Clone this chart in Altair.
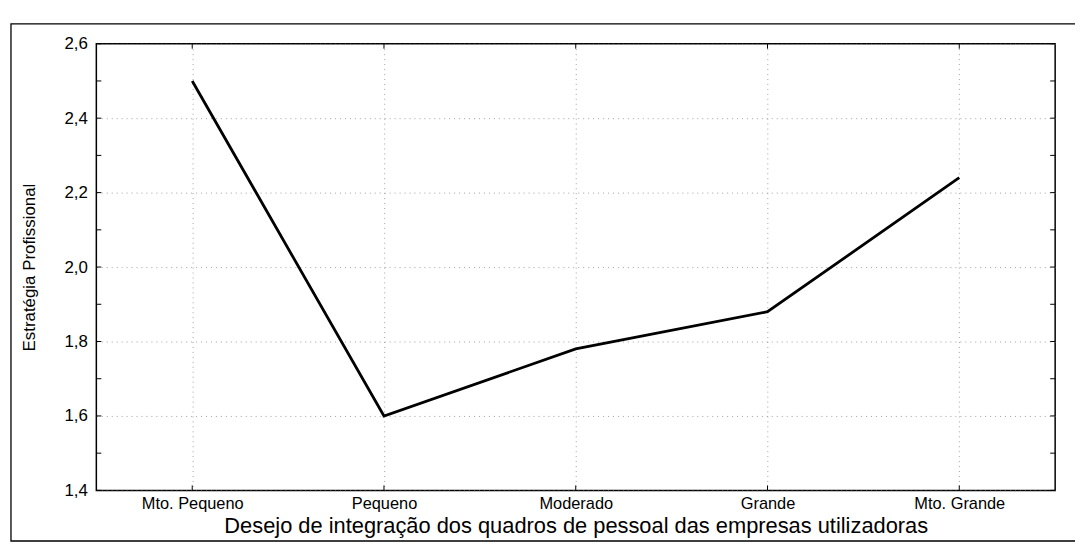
import altair as alt
import pandas as pd

categories = ["Mto. Pequeno", "Pequeno", "Moderado", "Grande", "Mto. Grande"]
values = [2.50, 1.60, 1.78, 1.88, 2.24]
y_major = [1.4, 1.6, 1.8, 2.0, 2.2, 2.4, 2.6]
y_minor = [1.4, 1.5, 1.6, 1.7, 1.8, 1.9, 2.0, 2.1, 2.2, 2.3, 2.4, 2.5, 2.6]

x_title = "Desejo de integração dos quadros de pessoal das empresas utilizadoras"
y_title = "Estratégia Profissional"

FONT = "Liberation Sans"
W, H = 966, 450

df = pd.DataFrame({"cat": categories, "val": values})
tick_df = pd.DataFrame({"v": y_minor})
cat_df = pd.DataFrame({"cat": categories})

xscale = alt.Scale(type="point", padding=0.5, domain=categories)
yscale = alt.Scale(domain=[1.4, 2.6], nice=False, zero=False)

x_axis = alt.Axis(title=x_title, labelAngle=0)
y_axis = alt.Axis(
    title=y_title, values=y_major,
    labelExpr="replace(format(datum.value, '.1f'), '.', ',')",
)

line = alt.Chart(df).mark_line(color="black", strokeWidth=2.8).encode(
    x=alt.X("cat:N", scale=xscale, axis=x_axis, sort=categories),
    y=alt.Y("val:Q", scale=yscale, axis=y_axis),
)

left_ticks = alt.Chart(tick_df).mark_rule(color="black", strokeWidth=1).encode(
    y=alt.Y("v:Q", scale=yscale, axis=y_axis), x=alt.value(0), x2=alt.value(5)
)
right_ticks = alt.Chart(tick_df).mark_rule(color="black", strokeWidth=1).encode(
    y=alt.Y("v:Q", scale=yscale, axis=y_axis), x=alt.value(W - 5), x2=alt.value(W)
)
bottom_ticks = alt.Chart(cat_df).mark_rule(color="black", strokeWidth=1).encode(
    x=alt.X("cat:N", scale=xscale, sort=categories, axis=x_axis), y=alt.value(H - 5), y2=alt.value(H)
)
top_ticks = alt.Chart(cat_df).mark_rule(color="black", strokeWidth=1).encode(
    x=alt.X("cat:N", scale=xscale, sort=categories, axis=x_axis), y=alt.value(0), y2=alt.value(5)
)

outer = alt.Chart(cat_df.head(1)).mark_rect(
    fill=None, stroke="black", strokeWidth=1.3, clip=False
).encode(
    x=alt.value(-86), x2=alt.value(1010), y=alt.value(-20), y2=alt.value(501)
)

chart = alt.layer(outer, left_ticks, right_ticks, bottom_ticks, top_ticks, line).properties(
    width=W, height=H,
    autosize=alt.AutoSizeParams(type="none"),
    padding={"left": 89, "top": 34, "right": 20, "bottom": 50},
    background="white",
).configure_view(stroke="black", strokeWidth=1.5).configure_axis(
    labelFont=FONT, titleFont=FONT, labelColor="black", titleColor="black",
    titleFontWeight="normal", domain=False, ticks=False,
    grid=True, gridDash=[1, 4], gridColor="#888", gridOpacity=0.8,
).configure_axisX(
    labelFontSize=16.5, titleFontSize=22, labelPadding=5, titlePadding=4,
).configure_axisY(
    labelFontSize=17, labelPadding=9, titleFontSize=17, titlePadding=26,
)

chart.save("out.html", embed_options={"renderer": "svg", "actions": False})
